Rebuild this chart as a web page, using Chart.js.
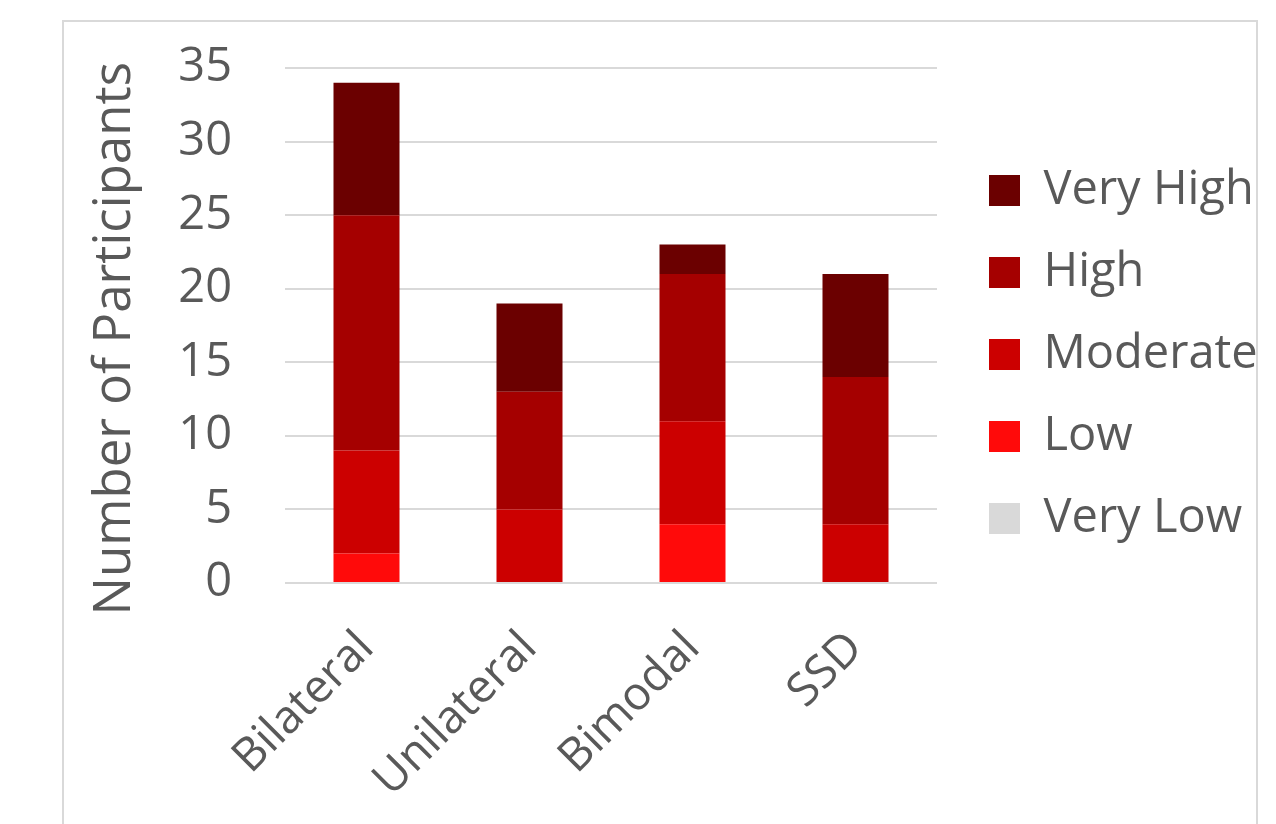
<!DOCTYPE html>
<html>
<head>
<meta charset="utf-8">
<script src="https://cdn.jsdelivr.net/npm/chart.js@4.4.1/dist/chart.umd.min.js"></script>
<style>
  html, body { margin: 0; padding: 0; background: #fff; }
  body { width: 1276px; height: 824px; position: relative; overflow: hidden; }
  #frame { position: absolute; left: 62px; top: 20px; width: 1196px; height: 820px; border: 2px solid #D9D9D9; box-sizing: border-box; }
  #wrap { position: absolute; left: 0; top: 0; width: 1276px; height: 824px; }
</style>
</head>
<body>
<div id="frame"></div>
<div id="wrap"><canvas id="c" width="1276" height="824"></canvas></div>
<script>
const categories = ["Bilateral", "Unilateral", "Bimodal", "SSD"];
const veryLow  = [0, 0, 0, 0];
const low      = [2, 0, 4, 0];
const moderate = [7, 5, 7, 4];
const high     = [16, 8, 10, 10];
const veryHigh = [9, 6, 2, 7];
const yTicks = [0, 5, 10, 15, 20, 25, 30, 35];

const FONT = "'Open Sans', 'Noto Sans', sans-serif";
const TXT = "#595959";

const ds = (label, data, color) => ({ label, data, backgroundColor: color, borderWidth: 0, barPercentage: 0.405, categoryPercentage: 1.0 });

const legendPlace = {
  id: 'legendPlace',
  beforeUpdate(chart) {
    const lg = chart.legend;
    if (lg && !lg._wrapped) {
      const orig = lg.fit;
      lg.fit = function () { orig.call(this); this.width = 339; };
      lg._wrapped = true;
    }
  },
  afterLayout(chart) {
    const lg = chart.legend;
    if (!lg) return;
    const p = lg.options.labels.padding;
    const h = lg.height;
    lg.left += 17; lg.right += 17;
    lg.top = 167 - p; lg.bottom = lg.top + h;
  }
};

new Chart(document.getElementById('c'), {
  type: 'bar',
  data: {
    labels: categories,
    datasets: [
      ds("Very Low", veryLow, "#D9D9D9"),
      ds("Low", low, "#FF0A0A"),
      ds("Moderate", moderate, "#CC0000"),
      ds("High", high, "#A50000"),
      ds("Very High", veryHigh, "#6B0000")
    ]
  },
  plugins: [legendPlace],
  options: {
    responsive: false,
    animation: false,
    layout: { padding: { left: 85, top: 68, right: 0, bottom: 0 } },
    plugins: {
      tooltip: { enabled: false },
      legend: {
        position: 'right',
        align: 'start',
        reverse: true,
        labels: {
          boxWidth: 31, boxHeight: 31, padding: 35,
          color: TXT,
          font: { family: FONT, size: 47, lineHeight: '30px' }
        }
      }
    },
    scales: {
      x: {
        stacked: true,
        grid: { display: false },
        border: { display: false },
        ticks: { color: TXT, font: { family: FONT, size: 46 }, minRotation: 45, maxRotation: 45, padding: 30 },
        afterFit: (s) => { s.height = 241; }
      },
      y: {
        stacked: true,
        min: 0, max: 35,
        afterBuildTicks: (s) => { s.ticks = yTicks.map(v => ({ value: v })); },
        grid: { color: "#D9D9D9", lineWidth: 2, drawTicks: true, tickLength: 50, tickColor: "rgba(0,0,0,0)" },
        border: { display: false },
        ticks: { color: TXT, font: { family: FONT, size: 47 }, padding: 3 },
        title: { display: true, text: "Number of Participants  ", color: TXT, font: { family: FONT, size: 51 }, padding: 0 },
        afterFit: (s) => { s.width = 200; }
      }
    }
  }
});
</script>
</body>
</html>
